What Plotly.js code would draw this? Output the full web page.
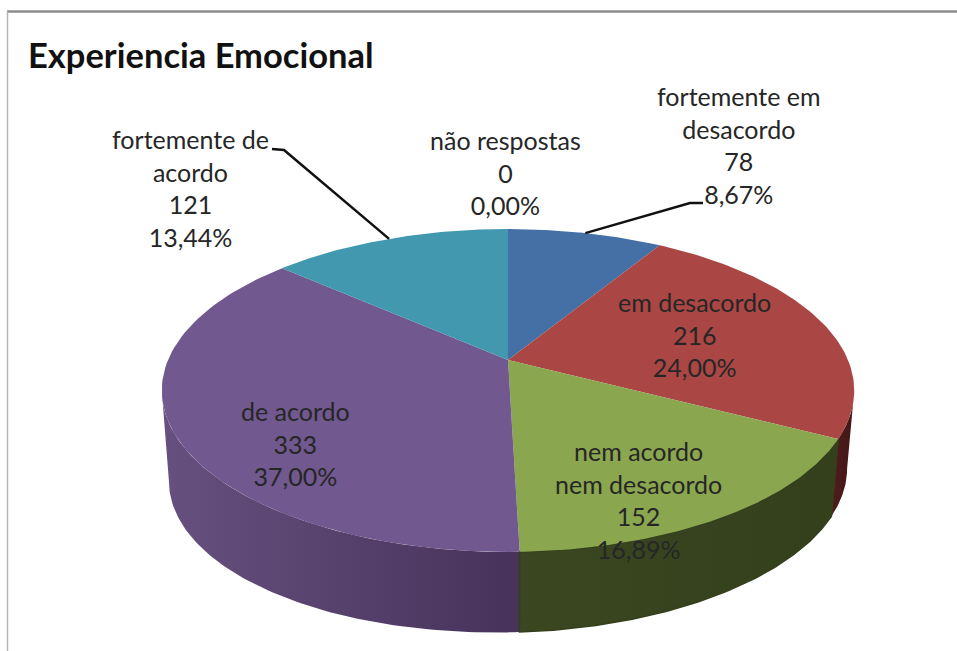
<!DOCTYPE html>
<html>
<head>
<meta charset="utf-8">
<script src="https://cdn.plot.ly/plotly-3.0.1.min.js"></script>
<style>html,body{margin:0;padding:0;background:#fff}#chart{width:957px;height:651px}</style>
</head>
<body>
<div id="chart"></div>
<script>
// ---- data ----
const categories = ["não respostas", "fortemente em desacordo", "em desacordo", "nem acordo nem desacordo", "de acordo", "fortemente de acordo"];
const counts = [0, 78, 216, 152, 333, 121];
const percentLabels = ["0,00%", "8,67%", "24,00%", "16,89%", "37,00%", "13,44%"];
const labelLines = [["não respostas"], ["fortemente em", "desacordo"], ["em desacordo"], ["nem acordo", "nem desacordo"], ["de acordo"], ["fortemente de", "acordo"]];
const topColors = ["#4198af", "#4470a6", "#aa4643", "#8aa64f", "#71588f", "#4198af"];
const wallColorsL = ["#2a6070", "#2c4a6c", "#4f1c1c", "#3a4720", "#66507f", "#2a6070"];
const wallColorsR = ["#2a6070", "#2c4a6c", "#431616", "#343f1c", "#47325a", "#2a6070"];
const wallEdgeWidths = [0, 0, 0, 1.5, 0, 0];

// ---- geometry of the tilted disc, in chart units (1 unit = 340 px) ----
const W = 957, H = 651, CX = 508, CY = 360, R = 340;
const K = 0.1888, A = 155.7 / R;            // rim perspective
const R2 = 333 / R, A2 = 152 / R, D = 85 / R, TILT = 0.018; // lower edge of the wall
const rim = t => {
  const u = Math.sin(t), v = -Math.cos(t), d = 1 - K * v;
  return [u / d, -A * v / d];
};
const base = t => {
  const u = Math.sin(t), v = -Math.cos(t), d = 1 - K * v;
  const x = R2 * u / d;
  return [x, -D - A2 * v / d + TILT * x];
};
const total = counts.reduce((a, b) => a + b, 0);
let cum = 0;
const slices = counts.map(c => {
  const a0 = cum / total * 2 * Math.PI; cum += c;
  return { a0, a1: cum / total * 2 * Math.PI };
});
const arc = (fn, a0, a1) => {
  const n = 90, pts = [];
  for (let i = 0; i <= n; i++) pts.push(fn(a0 + (a1 - a0) * i / n));
  return pts;
};
// the wall is only seen between the two silhouette angles of the disc
const sideR = Math.acos(-K), sideL = 2 * Math.PI - sideR;

const walls = [], tops = [];
slices.forEach((s, i) => {
  if (counts[i] === 0) return;
  const w0 = Math.max(s.a0, sideR), w1 = Math.min(s.a1, sideL);
  if (w1 > w0) {
    const outer = arc(rim, w0, w1), lower = arc(base, w0, w1).reverse();
    const wp = outer.concat(lower);
    wp.push(outer[0]);
    walls.push({
      order: i === 3 ? 1 : 0,
      type: "scatter", mode: "lines", x: wp.map(p => p[0]), y: wp.map(p => p[1]),
      fill: "toself", line: { width: wallEdgeWidths[i], color: wallColorsR[i] }, hoverinfo: "skip", showlegend: false,
      fillgradient: { type: "horizontal", colorscale: [[0, wallColorsL[i]], [1, wallColorsR[i]]] }
    });
  }
  const tp = [[0, 0]].concat(arc(rim, s.a0, s.a1), [[0, 0]]);
  tops.push({
    type: "scatter", mode: "lines", x: tp.map(p => p[0]), y: tp.map(p => p[1]),
    fill: "toself", fillcolor: topColors[i], line: { width: 0, color: topColors[i] },
    name: categories[i], text: categories[i] + ": " + counts[i] + " (" + percentLabels[i] + ")",
    hoverinfo: "text", showlegend: false
  });
});
// the green wall is drawn last so that its edge closes the seam with the purple one
walls.sort((a, b) => a.order - b.order);
walls.forEach(w => delete w.order);

// leader lines start on the rim at the middle of their slice
const px = (x, y) => [(x - CX) / R, (CY - y) / R];
const mid = i => rim((slices[i].a0 + slices[i].a1) / 2);
const leaderBends = { 1: [[690, 203], [703, 203]], 5: [[284, 150], [272, 149]] };
const leaders = Object.keys(leaderBends).map(k => {
  const p = [mid(+k)].concat(leaderBends[k].map(q => px(q[0], q[1])));
  return {
    type: "scatter", mode: "lines", x: p.map(q => q[0]), y: p.map(q => q[1]),
    line: { color: "#111", width: 2.5 }, hoverinfo: "skip", showlegend: false
  };
});

const labelPos = [[505, 173], [739, 145], [694, 334], [638, 500], [295, 443], [190, 188]];
const annotations = categories.map((c, i) => ({
  xref: "paper", yref: "paper", x: labelPos[i][0] / W, y: 1 - labelPos[i][1] / H,
  xanchor: "center", yanchor: "middle", align: "center", showarrow: false,
  text: labelLines[i].concat([String(counts[i]), percentLabels[i]]).join("<br>"),
  font: { family: "Lato, Carlito, sans-serif", size: 25, color: "#262626" }
}));

const layout = {
  width: W, height: H, margin: { l: 0, r: 0, t: 0, b: 0 },
  paper_bgcolor: "#fff", plot_bgcolor: "#fff", showlegend: false,
  title: {
    text: "<b>Experiencia Emocional</b>", x: 28 / W, xanchor: "left", xref: "paper",
    y: 1 - 56 / H, yanchor: "middle", yref: "paper",
    font: { family: "Lato, Carlito, sans-serif", size: 34.5, color: "#111" }
  },
  xaxis: { range: [-CX / R, (W - CX) / R], visible: false, fixedrange: true },
  yaxis: { range: [(CY - H) / R, CY / R], visible: false, fixedrange: true },
  annotations,
  shapes: [
    { type: "line", xref: "paper", yref: "paper", x0: 7 / W, x1: 1, y0: 1 - 11.5 / H, y1: 1 - 11.5 / H, line: { color: "#8c8c8c", width: 2.5 } },
    { type: "line", xref: "paper", yref: "paper", x0: 7.5 / W, x1: 7.5 / W, y0: 1 - 11 / H, y1: 0, line: { color: "#b4b4b4", width: 1.5 } }
  ]
};

Plotly.newPlot("chart", walls.concat(tops, leaders), layout, { displayModeBar: false, responsive: false });
</script>
</body>
</html>
